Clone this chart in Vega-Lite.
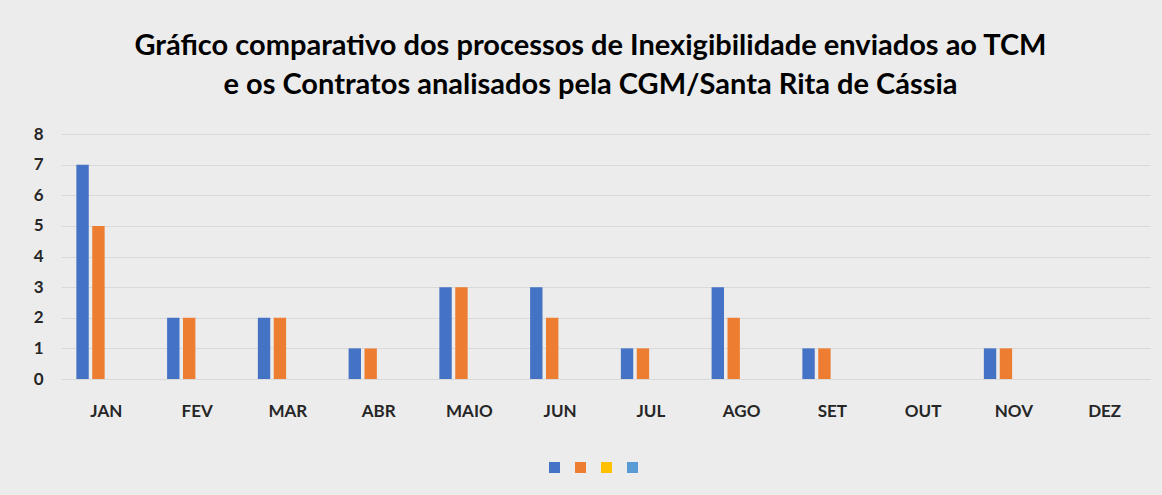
{
  "$schema": "https://vega.github.io/schema/vega-lite/v6.json",
  "width": 1089,
  "height": 245,
  "autosize": {"type": "none"},
  "padding": {"left": 61, "top": 134, "right": 12, "bottom": 116},
  "background": "#ececec",
  "title": {
    "text": ["Gráfico comparativo dos processos de Inexigibilidade enviados ao TCM", "e os Contratos analisados pela CGM/Santa Rita de Cássia"],
    "font": "Lato",
    "fontSize": 29,
    "fontWeight": "bold",
    "color": "#000000",
    "lineHeight": 39,
    "anchor": "middle",
    "frame": "group",
    "offset": 25,
    "dx": -15
  },
  "data": {
    "values": [
      {"mes": "JAN", "serie": "S1", "valor": 7}, {"mes": "JAN", "serie": "S2", "valor": 5},
      {"mes": "FEV", "serie": "S1", "valor": 2}, {"mes": "FEV", "serie": "S2", "valor": 2},
      {"mes": "MAR", "serie": "S1", "valor": 2}, {"mes": "MAR", "serie": "S2", "valor": 2},
      {"mes": "ABR", "serie": "S1", "valor": 1}, {"mes": "ABR", "serie": "S2", "valor": 1},
      {"mes": "MAIO", "serie": "S1", "valor": 3}, {"mes": "MAIO", "serie": "S2", "valor": 3},
      {"mes": "JUN", "serie": "S1", "valor": 3}, {"mes": "JUN", "serie": "S2", "valor": 2},
      {"mes": "JUL", "serie": "S1", "valor": 1}, {"mes": "JUL", "serie": "S2", "valor": 1},
      {"mes": "AGO", "serie": "S1", "valor": 3}, {"mes": "AGO", "serie": "S2", "valor": 2},
      {"mes": "SET", "serie": "S1", "valor": 1}, {"mes": "SET", "serie": "S2", "valor": 1},
      {"mes": "OUT", "serie": "S1", "valor": null}, {"mes": "OUT", "serie": "S2", "valor": null},
      {"mes": "NOV", "serie": "S1", "valor": 1}, {"mes": "NOV", "serie": "S2", "valor": 1},
      {"mes": "DEZ", "serie": "S1", "valor": null}, {"mes": "DEZ", "serie": "S2", "valor": null}
    ]
  },
  "mark": {"type": "bar"},
  "encoding": {
    "x": {
      "field": "mes",
      "type": "nominal",
      "sort": ["JAN", "FEV", "MAR", "ABR", "MAIO", "JUN", "JUL", "AGO", "SET", "OUT", "NOV", "DEZ"],
      "scale": {"domain": ["JAN", "FEV", "MAR", "ABR", "MAIO", "JUN", "JUL", "AGO", "SET", "OUT", "NOV", "DEZ"], "paddingInner": 0.3, "paddingOuter": 0.15},
      "axis": {
        "title": null,
        "labelAngle": 0,
        "labelFont": "Lato",
        "labelFontSize": 17,
        "labelFontWeight": "bold",
        "labelColor": "#262626",
        "labelPadding": 24,
        "ticks": false,
        "domainColor": "#d9d9d9",
        "grid": false
      }
    },
    "xOffset": {
      "field": "serie",
      "type": "nominal",
      "scale": {"domain": ["S1", "S2", "S3", "S4"], "paddingInner": 0.22, "paddingOuter": 0.11}
    },
    "y": {
      "field": "valor",
      "type": "quantitative",
      "scale": {"domain": [0, 8], "nice": false},
      "axis": {
        "title": null,
        "values": [0, 1, 2, 3, 4, 5, 6, 7, 8],
        "labelFont": "Lato",
        "labelFontSize": 17,
        "labelFontWeight": "bold",
        "labelColor": "#262626",
        "labelPadding": 18,
        "ticks": false,
        "domain": false,
        "gridColor": "#d9d9d9",
        "gridWidth": 1
      }
    },
    "color": {
      "field": "serie",
      "type": "nominal",
      "scale": {"domain": ["S1", "S2", "S3", "S4"], "range": ["#4472C4", "#ED7D31", "#FFC000", "#5B9BD5"]},
      "legend": {
        "title": null,
        "orient": "none",
        "legendX": 488,
        "legendY": 328,
        "direction": "horizontal",
        "labelExpr": "''",
        "labelOffset": 0,
        "columnPadding": 15,
        "symbolType": "square",
        "symbolSize": 121,
        "symbolStrokeWidth": 0
      }
    }
  },
  "config": {
    "view": {"stroke": null}
  }
}
